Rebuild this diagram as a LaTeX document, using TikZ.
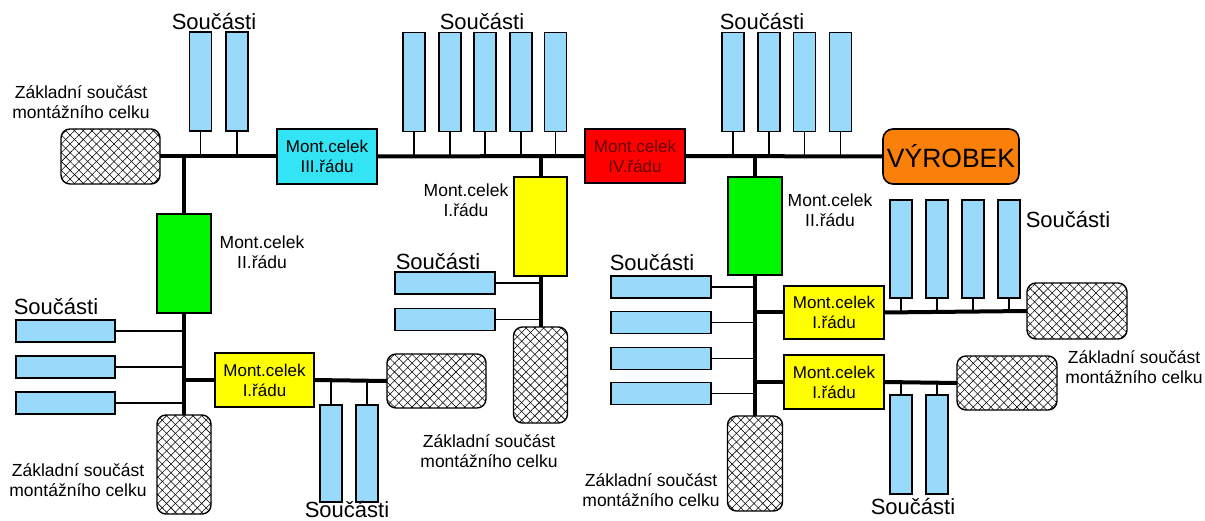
\documentclass[tikz,border=0pt]{standalone}
\usepackage{fontspec}
\setmainfont{Liberation Sans}
\usetikzlibrary{patterns.meta}
\definecolor{partblue}{RGB}{153,217,250}
\definecolor{cyanbox}{RGB}{51,228,245}
\definecolor{redbox}{RGB}{255,0,0}
\definecolor{redtext}{RGB}{100,0,0}
\definecolor{greenbox}{RGB}{0,245,0}
\definecolor{yellowbox}{RGB}{255,255,0}
\definecolor{orangebox}{RGB}{250,128,10}
\begin{document}
\begin{tikzpicture}[x=1pt,y=-1pt,
  box/.style={draw=black,line width=1.6pt,inner sep=0pt,outer sep=0pt,align=center,font=\fontsize{17}{20}\selectfont},
  part/.style={draw=black,line width=1.6pt,fill=partblue,inner sep=0pt,outer sep=0pt},
  vpart/.style={part,minimum width=22pt,minimum height=99pt},
  hpart/.style={part,minimum width=99pt,minimum height=22pt},
  base/.style={draw=black,line width=1.4pt,rounded corners=9pt,inner sep=0pt,outer sep=0pt,
    preaction={pattern={Lines[angle=45,distance=6.2pt,line width=0.55pt]}},
    preaction={pattern={Lines[angle=-45,distance=6.2pt,line width=0.55pt]}}},
  hbase/.style={base,minimum width=99pt,minimum height=55pt},
  vbase/.style={base,minimum width=54pt,minimum height=97pt},
  lbl/.style={align=center,inner sep=0pt,font=\fontsize{17.5}{20}\selectfont},
  slbl/.style={inner sep=0pt,font=\fontsize{22}{24}\selectfont},
  thick/.style={line width=4pt},
  thin/.style={line width=1.6pt}
]
\useasboundingbox (0,0) rectangle (1205,521);
\fill[white] (0,0) rectangle (1205,521);

% ---- main level boxes
\node[hbase] (H1) at (110.5,156.5) {};
\node[box,fill=cyanbox,minimum width=100pt,minimum height=55pt] (III) at (327,156.5) {Mont.celek\\III.řádu};
\node[box,fill=redbox,text=redtext,minimum width=100pt,minimum height=54pt] (IV) at (635,156) {Mont.celek\\IV.řádu};
\node[draw=black,line width=1.6pt,fill=orangebox,rounded corners=10pt,minimum width=136pt,minimum height=55pt,inner sep=0pt,font=\fontsize{26.5}{28}\selectfont] (VYR) at (951,156.5) {VÝROBEK};

% ---- left branch
\node[box,fill=greenbox,minimum width=54pt,minimum height=99pt] (G1) at (184,263.5) {};
\node[vbase,minimum height=99pt] (H2) at (184,464.5) {};
\node[box,fill=yellowbox,minimum width=99pt,minimum height=54pt] (Y2) at (264.5,380) {Mont.celek\\I.řádu};
\node[hbase,minimum height=54pt] (H3) at (436.5,381) {};

% ---- middle branch
\node[box,fill=yellowbox,minimum width=53pt,minimum height=99pt] (Y1) at (540.5,226.5) {};
\node[vbase,minimum height=96pt] (H4) at (540.5,375) {};

% ---- right branch
\node[box,fill=greenbox,minimum width=54pt,minimum height=98pt] (G2) at (755,226) {};
\node[vbase,minimum height=95pt,minimum width=55pt] (H5) at (755,463.5) {};
\node[box,fill=yellowbox,minimum width=100pt,minimum height=53pt] (Y3) at (834,312.5) {Mont.celek\\I.řádu};
\node[box,fill=yellowbox,minimum width=100pt,minimum height=54pt] (Y4) at (834,382) {Mont.celek\\I.řádu};
\node[hbase,minimum width=100pt,minimum height=56pt] (H6) at (1077,311) {};
\node[hbase,minimum width=100pt,minimum height=54pt] (H7) at (1007,383) {};

% ---- thick connectors
\draw[thick] (H1.east) -- (III.west);
\draw[thick] (III.east) -- (IV.west);
\draw[thick] (IV.east) -- (VYR.west);
\draw[thick] (G1.north |- H1.east) -- (G1.north);
\draw[thick] (G1.south) -- (H2.north);
\draw[thick] (Y2.west -| G1.south) -- (Y2.west);
\draw[thick] (Y2.east) -- (H3.west);
\draw[thick] (Y1.north |- IV.west) -- (Y1.north);
\draw[thick] (Y1.south) -- (H4.north);
\draw[thick] (G2.north |- IV.east) -- (G2.north);
\draw[thick] (G2.south) -- (H5.north);
\draw[thick] (Y3.west -| G2.south) -- (Y3.west);
\draw[thick] (Y3.east) -- (H6.west);
\draw[thick] (Y4.west -| G2.south) -- (Y4.west);
\draw[thick] (Y4.east) -- (H7.west);

% ---- parts: top left
\foreach \n/\x in {a/200.5,b/237}{
  \node[vpart] (TL\n) at (\x,81.5) {};
  \draw[thin] (TL\n.south) -- (TL\n.south |- H1.east);
}
% ---- parts: top middle
\foreach \n/\x in {a/414,b/450,c/485,d/521,e/555.5}{
  \node[vpart] (TM\n) at (\x,82) {};
  \draw[thin] (TM\n.south) -- (TM\n.south |- III.east);
}
% ---- parts: top right
\foreach \n/\x in {a/733,b/769,c/804.5,d/840.5}{
  \node[vpart] (TR\n) at (\x,82) {};
  \draw[thin] (TR\n.south) -- (TR\n.south |- IV.east);
}
% ---- parts: right upper
\foreach \n/\x in {a/901,b/937,c/973,d/1009}{
  \node[vpart,minimum height=98pt] (RU\n) at (\x,249) {};
  \draw[thin] (RU\n.south) -- (RU\n.south |- Y3.east);
}
% ---- parts: right lower
\foreach \n/\x in {a/901,b/937}{
  \node[vpart] (RL\n) at (\x,444.5) {};
  \draw[thin] (RL\n.north) -- (RL\n.north |- Y4.east);
}
% ---- parts: bottom left
\foreach \n/\x in {a/331,b/367}{
  \node[vpart,minimum height=97pt] (BL\n) at (\x,453.5) {};
  \draw[thin] (BL\n.north) -- (BL\n.north |- Y2.east);
}
% ---- parts: left horizontal
\foreach \n/\y in {a/331,b/367,c/403}{
  \node[hpart] (LH\n) at (65.5,\y) {};
  \draw[thin] (LH\n.east) -- (LH\n.east -| G1.south);
}
% ---- parts: middle horizontal
\foreach \n/\y in {a/283,b/319.5}{
  \node[hpart,minimum width=100pt] (MH\n) at (445,\y) {};
  \draw[thin] (MH\n.east) -- (MH\n.east -| Y1.south);
}
% ---- parts: right horizontal
\foreach \n/\y in {a/287,b/322.5,c/358.5,d/393.5}{
  \node[hpart,minimum width=100pt] (RH\n) at (661,\y) {};
  \draw[thin] (RH\n.east) -- (RH\n.east -| G2.south);
}

% ---- labels
\node[slbl] (s1) at (214,22) {Součásti};
\node[slbl] (s2) at (482,22) {Součásti};
\node[slbl] (s3) at (762,22) {Součásti};
\node[slbl] (s4) at (1068,220) {Součásti};
\node[slbl] (s5) at (913,507) {Součásti};
\node[slbl] (s6) at (347,510) {Součásti};
\node[slbl] (s7) at (56,307) {Součásti};
\node[slbl] (s8) at (438,262) {Součásti};
\node[slbl] (s9) at (652,263) {Součásti};

\node[lbl] (z1) at (81,102) {Základní součást\\montážního celku};
\node[lbl] (z2) at (78,480) {Základní součást\\montážního celku};
\node[lbl] (z3) at (489,451) {Základní součást\\montážního celku};
\node[lbl] (z4) at (651,490) {Základní součást\\montážního celku};
\node[lbl] (z5) at (1134,367) {Základní součást\\montážního celku};

\node[lbl] (m1) at (262,252) {Mont.celek\\II.řádu};
\node[lbl] (m2) at (466,200) {Mont.celek\\I.řádu};
\node[lbl] (m3) at (830,210) {Mont.celek\\II.řádu};
\end{tikzpicture}
\end{document}
